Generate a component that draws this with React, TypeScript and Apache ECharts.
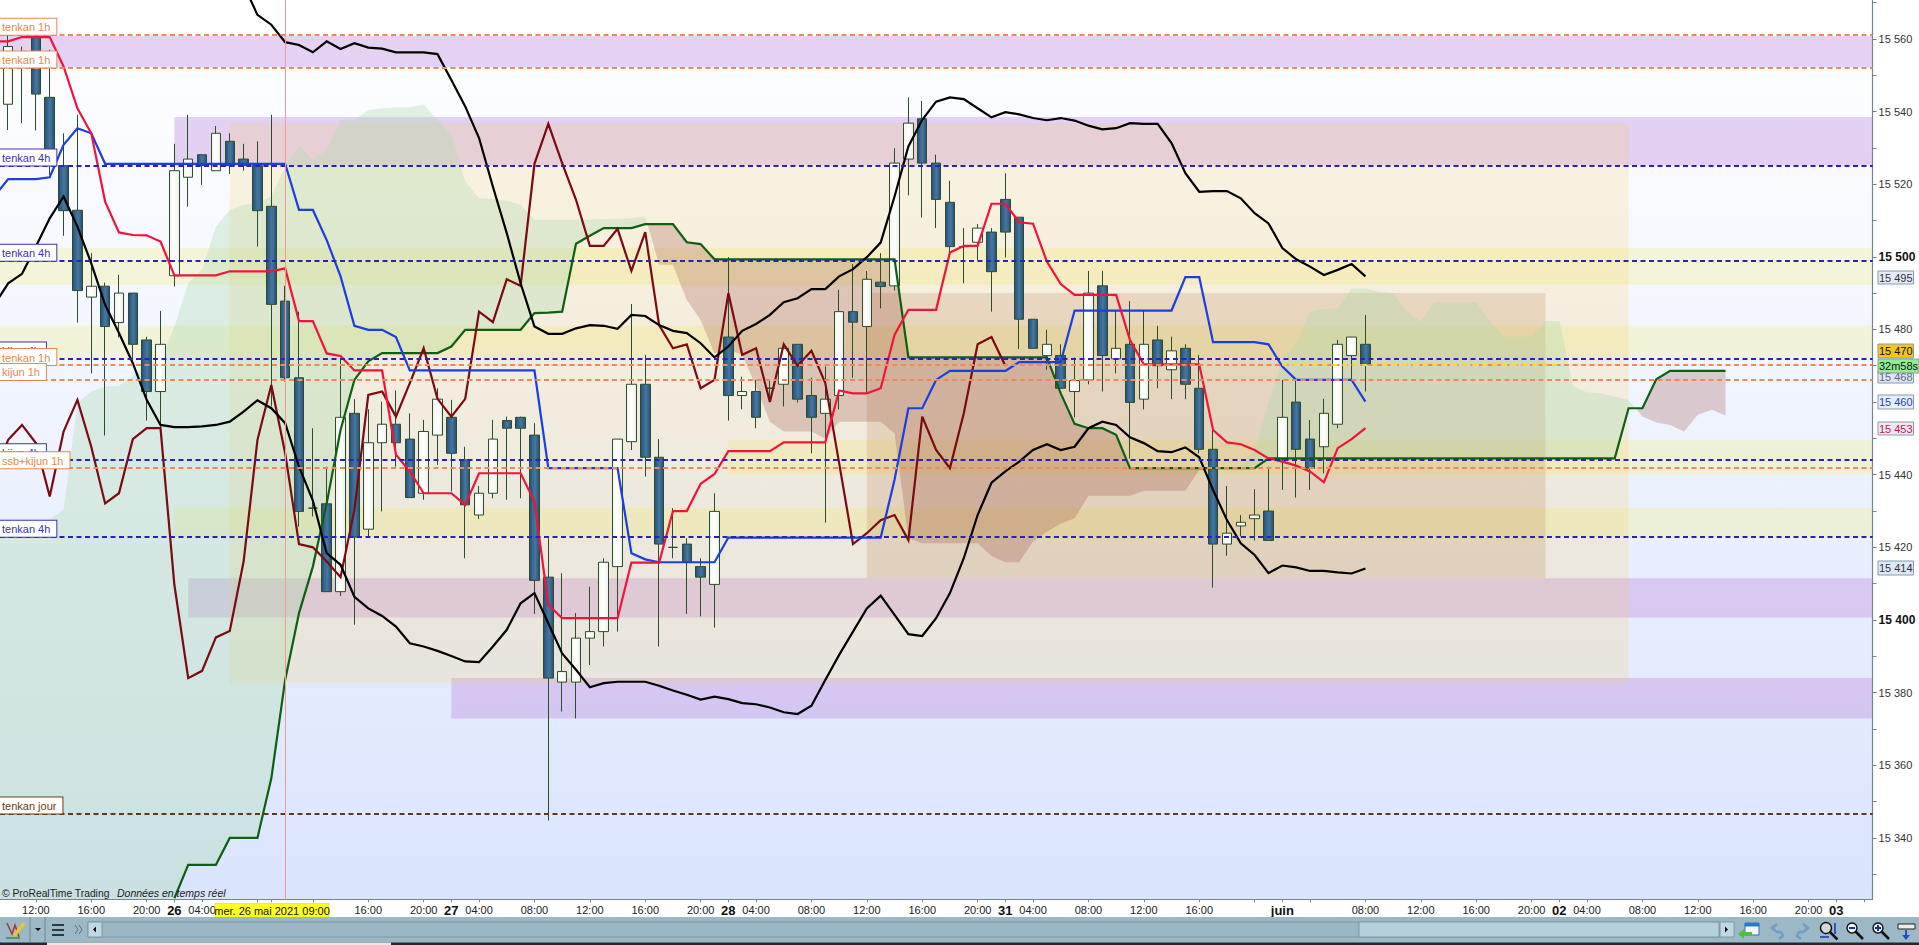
import React, { useEffect, useRef } from "react";
import * as echarts from "echarts";

const FONT = "'Liberation Sans', Arial, sans-serif";
const xMin = -0.59;
const xMax = 134.62;
const yMin = 15323.1;
const yMax = 15570.7;

// candles, index 0..98
const opens = [
  15542.0, 15553.8, 15560.6, 15543.9, 15525.1, 15512.8, 15488.9, 15491.9, 15481.9, 15490.0,
  15477.1, 15462.9, 15494.8, 15521.9, 15528.1, 15523.7, 15531.8, 15526.9, 15525.1, 15513.9,
  15487.8, 15466.7, 15430.8, 15432.0, 15407.8, 15456.9, 15425.0, 15448.8, 15453.9, 15449.8,
  15434.9, 15450.9, 15455.8, 15444.1, 15428.9, 15434.9, 15454.9, 15455.8, 15450.9, 15411.8,
  15382.9, 15382.9, 15395.0, 15396.8, 15414.7, 15449.1, 15464.9, 15444.8, 15420.0, 15420.9,
  15414.7, 15409.8, 15477.9, 15461.8, 15462.9, 15463.8, 15464.9, 15475.9, 15461.8, 15456.9,
  15461.8, 15484.9, 15480.8, 15493.0, 15492.0, 15526.9, 15538.0, 15525.8, 15515.0, 15502.8,
  15504.0, 15506.8, 15515.8, 15510.9, 15482.8, 15472.8, 15472.8, 15462.9, 15466.1, 15492.0,
  15471.9, 15475.9, 15460.8, 15477.1, 15468.9, 15474.8, 15463.8, 15447.0, 15420.9, 15425.9,
  15427.9, 15430.0, 15444.3, 15460.0, 15449.8, 15447.7, 15453.9, 15472.8, 15475.9,
];
const closes = [
  15557.9, 15556.0, 15544.8, 15527.6, 15512.7, 15490.7, 15491.9, 15480.8, 15490.0, 15475.9,
  15462.9, 15475.9, 15523.7, 15526.9, 15525.1, 15534.0, 15525.1, 15525.1, 15512.7, 15486.9,
  15466.7, 15429.9, 15430.8, 15407.8, 15455.8, 15422.8, 15448.8, 15453.9, 15448.8, 15433.7,
  15451.9, 15460.8, 15445.9, 15431.7, 15434.9, 15449.8, 15452.8, 15452.8, 15410.9, 15384.0,
  15385.8, 15395.0, 15396.8, 15415.9, 15449.8, 15464.9, 15444.8, 15420.9, 15420.0, 15415.9,
  15411.8, 15429.9, 15461.8, 15462.9, 15455.8, 15463.8, 15474.8, 15460.8, 15455.8, 15460.8,
  15484.9, 15482.0, 15493.8, 15491.8, 15525.8, 15536.8, 15525.8, 15515.8, 15502.8, 15502.8,
  15507.9, 15495.9, 15506.8, 15482.8, 15474.8, 15475.9, 15463.8, 15465.9, 15490.0, 15472.8,
  15474.8, 15459.9, 15475.9, 15470.0, 15474.1, 15464.9, 15447.0, 15420.9, 15423.9, 15426.9,
  15428.9, 15421.9, 15455.8, 15447.0, 15441.8, 15456.9, 15475.9, 15477.9, 15470.4,
];
const lows = [
  15534.9, 15536.8, 15534.8, 15522.5, 15505.8, 15481.9, 15467.9, 15450.8, 15477.8, 15471.6,
  15454.9, 15452.3, 15491.8, 15513.8, 15519.8, 15523.7, 15522.8, 15523.7, 15502.8, 15458.8,
  15465.7, 15425.7, 15428.5, 15407.8, 15406.6, 15398.7, 15422.7, 15429.9, 15442.2, 15433.7,
  15433.1, 15442.7, 15435.4, 15417.0, 15427.8, 15433.5, 15433.1, 15433.5, 15401.7, 15344.8,
  15374.8, 15372.9, 15387.6, 15392.7, 15396.8, 15446.8, 15439.5, 15392.7, 15417.0, 15401.7,
  15401.0, 15397.9, 15454.9, 15458.0, 15452.8, 15460.1, 15458.8, 15459.9, 15445.9, 15426.8,
  15458.0, 15466.7, 15462.4, 15485.8, 15490.7, 15516.9, 15510.8, 15507.9, 15500.1, 15492.7,
  15499.1, 15484.9, 15499.8, 15474.6, 15474.8, 15468.9, 15463.8, 15455.8, 15464.9, 15462.9,
  15467.9, 15444.5, 15458.0, 15463.8, 15460.8, 15460.8, 15445.9, 15408.9, 15417.7, 15423.0,
  15421.9, 15421.9, 15435.8, 15433.7, 15435.8, 15440.4, 15452.8, 15466.1, 15462.9,
];
const highs = [
  15561.1, 15557.9, 15561.6, 15557.0, 15534.0, 15539.1, 15501.0, 15492.9, 15495.0, 15490.0,
  15478.0, 15485.1, 15531.1, 15539.1, 15528.1, 15536.0, 15534.0, 15531.1, 15531.8, 15539.1,
  15492.0, 15484.9, 15452.8, 15442.2, 15472.1, 15460.8, 15458.0, 15460.1, 15463.2, 15456.9,
  15455.1, 15463.8, 15460.6, 15447.7, 15436.9, 15455.1, 15456.0, 15456.0, 15454.2, 15422.5,
  15412.9, 15401.9, 15409.2, 15417.0, 15449.8, 15487.0, 15473.0, 15449.8, 15430.8, 15422.5,
  15417.0, 15434.9, 15499.9, 15467.0, 15466.1, 15466.1, 15475.9, 15475.9, 15466.7, 15469.8,
  15490.9, 15498.0, 15496.1, 15501.0, 15529.9, 15543.9, 15542.9, 15528.1, 15520.9, 15507.9,
  15509.0, 15507.9, 15523.0, 15510.9, 15482.8, 15479.9, 15475.9, 15472.3, 15496.1, 15496.1,
  15485.2, 15487.8, 15485.2, 15481.0, 15478.0, 15475.9, 15473.0, 15452.3, 15436.9, 15428.9,
  15436.0, 15442.2, 15466.1, 15466.1, 15455.1, 15460.9, 15477.1, 15477.9, 15484.0,
];

// indicator lines: the first value of each belongs to index -1
const firstLineIndex = -1;
const bollingerLow = [
  15486.8,
  15492.7, 15495.3, 15502.8, 15510.6, 15516.6, 15508.3, 15498.2, 15486.8, 15479.0, 15470.7,
  15460.6, 15453.7, 15453.1, 15453.1, 15453.3, 15453.7, 15454.6, 15457.4, 15460.5, 15458.3,
  15454.2, 15442.2, 15432.9, 15418.4, 15415.2, 15406.4, 15403.2, 15401.1, 15398.2, 15393.6,
  15392.7, 15391.5, 15390.1, 15388.6, 15388.4, 15392.7, 15397.3, 15404.6, 15407.4, 15399.1,
  15390.8, 15386.3, 15381.5, 15382.6, 15383.0, 15383.0, 15383.0, 15381.9, 15380.6, 15379.4,
  15378.1, 15378.9, 15378.2, 15377.1, 15376.8, 15375.9, 15374.6, 15374.1, 15376.4, 15383.5,
  15390.4, 15396.8, 15403.2, 15406.7, 15401.4, 15396.1, 15395.6, 15400.5, 15407.4, 15417.0,
  15428.9, 15437.8, 15440.9, 15443.6, 15446.8, 15448.4, 15446.8, 15447.7, 15452.8, 15454.6,
  15453.7, 15450.3, 15448.7, 15446.5, 15446.2, 15447.5, 15444.8, 15435.8, 15427.5, 15421.1,
  15417.9, 15412.9, 15415.0, 15414.5, 15413.5, 15413.5, 15413.1, 15412.8, 15414.2,
];
const bollingerHigh = [
  null,
  null, null, null, null, null, null, null, null, null, null,
  null, null, null, null, null, null, null, 15574.9, 15566.6, 15563.9,
  15559.1, 15558.3, 15556.3, 15559.3, 15557.2, 15558.8, 15557.6, 15557.3, 15556.3, 15556.3,
  15556.3, 15555.8, 15548.7, 15541.4, 15532.7, 15519.3, 15506.5, 15492.7, 15480.8, 15478.8,
  15478.8, 15480.3, 15481.2, 15481.0, 15480.2, 15484.0, 15483.7, 15481.2, 15479.6, 15479.0,
  15476.2, 15472.3, 15475.3, 15479.6, 15481.5, 15484.0, 15487.5, 15488.6, 15491.1, 15491.1,
  15494.6, 15496.6, 15499.9, 15503.9, 15516.6, 15530.4, 15537.7, 15542.7, 15543.9, 15543.4,
  15540.9, 15538.4, 15539.8, 15539.2, 15538.2, 15537.6, 15538.2, 15537.5, 15536.1, 15535.1,
  15535.4, 15536.8, 15536.6, 15536.6, 15531.3, 15523.0, 15517.9, 15518.1, 15518.1, 15516.1,
  15512.0, 15509.2, 15502.4, 15499.3, 15497.3, 15495.0, 15496.4, 15498.0, 15494.6,
];
const tenkan = [
  15559.3,
  15559.3, 15560.5, 15560.5, 15560.5, 15552.4, 15540.9, 15534.0, 15515.2, 15506.7, 15506.0,
  15505.9, 15504.2, 15494.9, 15494.9, 15494.9, 15494.9, 15496.0, 15496.0, 15496.0, 15496.0,
  15496.8, 15482.3, 15482.3, 15473.4, 15472.7, 15468.7, 15468.7, 15468.7, 15445.5, 15440.9,
  15434.9, 15434.9, 15434.9, 15431.7, 15440.4, 15440.4, 15440.4, 15440.4, 15432.6, 15404.2,
  15400.5, 15400.5, 15400.5, 15400.5, 15400.5, 15415.8, 15415.8, 15415.8, 15430.0, 15430.0,
  15437.5, 15440.2, 15446.5, 15446.5, 15446.5, 15446.5, 15448.9, 15448.9, 15448.9, 15448.9,
  15463.2, 15462.4, 15462.4, 15463.8, 15478.5, 15485.4, 15485.4, 15485.4, 15501.2, 15503.0,
  15503.0, 15514.6, 15514.6, 15509.5, 15509.1, 15498.7, 15492.5, 15489.5, 15489.5, 15489.5,
  15489.5, 15477.1, 15470.4, 15470.4, 15470.4, 15470.4, 15470.4, 15452.3, 15448.9, 15448.4,
  15446.8, 15444.5, 15443.6, 15442.5, 15440.9, 15437.9, 15447.3, 15449.8, 15452.8,
];
const kijun = [
  15516.6,
  15521.4, 15521.4, 15521.4, 15521.9, 15530.8, 15535.4, 15534.0, 15525.6, 15525.6, 15525.6,
  15525.6, 15525.6, 15525.6, 15525.6, 15525.6, 15525.6, 15525.6, 15525.6, 15525.6, 15525.6,
  15525.6, 15512.9, 15512.9, 15504.6, 15494.6, 15481.0, 15479.9, 15479.9, 15477.9, 15468.7,
  15468.7, 15468.7, 15468.7, 15468.7, 15468.7, 15468.7, 15468.7, 15468.7, 15468.7, 15441.8,
  15441.8, 15441.8, 15441.8, 15441.8, 15441.8, 15418.4, 15416.7, 15415.9, 15415.9, 15415.9,
  15415.9, 15415.9, 15422.7, 15422.7, 15422.7, 15422.7, 15422.7, 15422.7, 15422.7, 15422.7,
  15422.7, 15422.7, 15422.7, 15422.7, 15438.6, 15458.3, 15458.3, 15466.1, 15468.6, 15468.6,
  15468.6, 15468.6, 15468.6, 15471.0, 15471.0, 15471.0, 15471.0, 15485.2, 15485.2, 15485.2,
  15485.2, 15485.2, 15485.2, 15485.2, 15485.2, 15494.4, 15494.4, 15476.5, 15476.5, 15476.5,
  15476.5, 15475.9, 15469.8, 15466.1, 15466.1, 15466.1, 15466.1, 15466.1, 15460.1,
];
const chikou = [
  15440.4,
  15449.6, 15453.7, 15448.7, 15434.0, 15451.9, 15460.6, 15447.7, 15432.1, 15434.9, 15449.8,
  15452.8, 15452.8, 15409.7, 15384.0, 15386.0, 15395.2, 15397.0, 15416.1, 15449.6, 15464.7,
  15445.9, 15420.9, 15420.0, 15416.1, 15411.8, 15430.3, 15462.0, 15462.9, 15456.0, 15465.2,
  15474.8, 15460.9, 15456.0, 15460.9, 15484.9, 15482.0, 15493.8, 15492.0, 15525.6, 15536.6,
  15525.8, 15515.7, 15503.0, 15503.0, 15507.7, 15496.1, 15506.8, 15481.2, 15474.8, 15475.9,
  15463.8, 15466.1, 15490.0, 15473.0, 15474.8, 15460.0, 15475.9, 15470.0, 15474.1, 15465.2,
  15443.2, 15420.9, 15423.9, 15427.5, 15428.9, 15422.0, 15456.0, 15446.8, 15441.8, 15456.9,
  15475.9, 15477.9, 15470.0,
];
const senkouB = [
  null,
  null, null, null, null, null, null, null, null, null, null,
  null, null, 15323.4, 15332.6, 15332.6, 15332.6, 15340.0, 15340.0, 15340.0, 15356.4,
  15383.5, 15401.9, 15414.7, 15432.1, 15452.3, 15466.1, 15471.2, 15473.5, 15473.5, 15473.5,
  15473.5, 15473.5, 15475.3, 15479.9, 15479.9, 15479.9, 15479.9, 15479.9, 15484.5, 15484.6,
  15484.9, 15503.6, 15505.8, 15507.9, 15507.9, 15507.9, 15509.0, 15509.0, 15509.0, 15504.0,
  15503.5, 15499.3, 15499.3, 15499.3, 15499.3, 15499.3, 15499.3, 15499.3, 15499.3, 15499.3,
  15499.3, 15499.3, 15499.3, 15499.3, 15499.3, 15472.3, 15472.3, 15472.3, 15472.3, 15472.3,
  15472.3, 15472.3, 15472.3, 15472.3, 15472.3, 15472.3, 15462.4, 15454.0, 15452.8, 15452.8,
  15451.0, 15441.8, 15441.8, 15441.8, 15441.8, 15441.8, 15441.8, 15441.8, 15441.8, 15441.8,
  15441.8, 15444.5, 15444.5, 15444.5, 15444.5, 15444.5, 15444.5, 15444.5, 15444.5, 15444.5,
  15444.5, 15444.5, 15444.5, 15444.5, 15444.5, 15444.5, 15444.5, 15444.5, 15444.5, 15444.5,
  15444.5, 15444.5, 15444.5, 15444.5, 15444.5, 15444.5, 15444.5, 15458.3, 15458.3, 15466.3,
  15468.6, 15468.6, 15468.6, 15468.6, 15468.6,
];
const senkouA = [
  15427.7,
  15427.7, 15427.7, 15427.7, 15427.7, 15430.3, 15459.7, 15462.9, 15464.3, 15464.5, 15467.0,
  15470.7, 15471.2, 15480.8, 15492.7, 15496.4, 15508.3, 15512.9, 15514.3, 15514.8, 15516.6,
  15524.9, 15530.4, 15526.7, 15529.4, 15537.7, 15537.7, 15540.4, 15540.9, 15541.1, 15541.2,
  15541.9, 15537.7, 15533.6, 15520.7, 15516.1, 15515.9, 15515.4, 15514.3, 15510.2, 15510.2,
  15510.2, 15510.2, 15510.3, 15510.4, 15510.5, 15510.6, 15511.1, 15497.8, 15497.8, 15488.1,
  15482.6, 15473.4, 15474.4, 15473.0, 15464.3, 15454.6, 15451.9, 15451.9, 15451.9, 15449.9,
  15454.6, 15454.6, 15454.6, 15454.6, 15451.4, 15422.5, 15421.1, 15421.1, 15421.1, 15421.1,
  15421.1, 15417.6, 15415.9, 15415.9, 15421.6, 15424.3, 15426.6, 15428.0, 15434.2, 15434.2,
  15434.2, 15434.2, 15435.6, 15435.6, 15435.6, 15435.6, 15441.3, 15441.8, 15441.8, 15442.2,
  15446.8, 15459.7, 15471.6, 15476.2, 15484.9, 15485.7, 15485.7, 15491.3, 15491.3, 15490.4,
  15490.0, 15484.9, 15482.2, 15487.5, 15487.5, 15487.5, 15487.5, 15482.2, 15478.0, 15478.0,
  15478.0, 15482.3, 15482.3, 15464.3, 15462.7, 15462.4, 15461.5, 15460.6, 15456.0, 15454.4,
  15453.7, 15451.9, 15456.5, 15457.9, 15456.3,
];
const lastPriceSegment = [92, 112];
const lastPriceValue = 15470.2;
const cursorIndex = 20;

// horizontal zones: [fromIndex, toIndex, low, high, colour]
const PURPLE = "rgba(192,145,225,0.4)";
const YELLOW = "rgba(240,238,143,0.35)";
const zones: [number, number, number, number, string][] = [
  [xMin, xMax, 15552.1, 15560.8, PURPLE],
  [12, xMax, 15525.1, 15538.5, PURPLE],
  [xMin, xMax, 15492.3, 15502.4, YELLOW],
  [xMin, xMax, 15472.0, 15481.0, YELLOW],
  [52, xMax, 15440.0, 15449.5, YELLOW],
  [12, xMax, 15422.9, 15431.0, YELLOW],
  [13, xMax, 15400.7, 15411.5, PURPLE],
  [32, xMax, 15372.9, 15384.0, PURPLE],
  [16, 117, 15382.5, 15536.8, "rgba(250,207,95,0.2)"],
  [62, 111, 15411.5, 15490.0, "rgba(180,120,60,0.2)"],
];

const ORANGE = "#ee8a58";
const NAVY = "#2a22b8";
const BROWN = "#5c3a1e";
// horizontal levels: [price, colour, label]
const levels: [number, string, string, string][] = [
  [15561.1, ORANGE, "tenkan 1h", "#e8874f"],
  [15552.1, ORANGE, "tenkan 1h", "#e8874f"],
  [15525.1, NAVY, "tenkan 4h", "#3a35b0"],
  [15498.9, NAVY, "tenkan 4h", "#3a35b0"],
  [15472.0, NAVY, "kijun 4h", "#3a35b0"],
  [15470.2, ORANGE, "tenkan 1h", "#e8874f"],
  [15466.1, ORANGE, "kijun 1h", "#e8874f"],
  [15444.0, NAVY, "kijun 4h", "#3a35b0"],
  [15441.8, ORANGE, "ssb+kijun 1h", "#e8874f"],
  [15422.9, NAVY, "tenkan 4h", "#3a35b0"],
  [15346.7, BROWN, "tenkan jour", "#6a3d12"],
];

const xTickIndexes = [2, 6, 10, 12, 14, 18, 19, 22, 26, 30, 32, 34, 38, 42, 46, 50, 52, 54, 58, 62, 66, 70, 72, 74, 78, 82, 86, 90, 92, 94, 98, 102, 106, 110, 112, 114, 118, 122, 126, 130, 132, 134];
const xLabelIndexes = [2, 6, 10, 12, 14, 26, 30, 32, 34, 38, 42, 46, 50, 52, 54, 58, 62, 66, 70, 72, 74, 78, 82, 86, 92, 98, 102, 106, 110, 112, 114, 118, 122, 126, 130, 132];
const xLabelTexts = ["12:00", "16:00", "20:00", "26", "04:00", "16:00", "20:00", "27", "04:00", "08:00", "12:00", "16:00", "20:00", "28", "04:00", "08:00", "12:00", "16:00", "20:00", "31", "04:00", "08:00", "12:00", "16:00", "juin", "08:00", "12:00", "16:00", "20:00", "02", "04:00", "08:00", "12:00", "16:00", "20:00", "03"];
const yLabelValues = [15340, 15360, 15380, 15400, 15420, 15440, 15480, 15500, 15520, 15540, 15560];
const yBoldValues = [15400, 15500];
const yTickValues = [15330, 15340, 15350, 15360, 15370, 15380, 15390, 15400, 15410, 15420, 15430, 15440, 15450, 15460, 15470, 15480, 15490, 15500, 15510, 15520, 15530, 15540, 15550, 15560, 15570];

// price tags at the right of the axis: [text, top, height, fill, text colour, width]
const tags: [string, number, number, string, string, number][] = [
  ["15 495", 271, 13, "#e4eaf8", "#333", 35.5],
  ["15 470", 344, 14, "#f5c518", "#111", 35.5],
  ["15 468", 371, 12, "#dde6f5", "#667", 35.5],
  ["32m58s", 359, 14, "#90ee90", "#111", 41],
  ["15 460", 395, 14, "#e8eefc", "#2040d0", 35.5],
  ["15 453", 422, 13, "#f0e8f4", "#d01050", 35.5],
  ["15 414", 561, 14, "#dfe8f8", "#333", 35.5],
];

function buildClouds() {
  const polys: { pts: number[][]; up: boolean }[] = [];
  let top: number[][] = [];
  let bot: number[][] = [];
  let prev: boolean | null = null;
  const close = (up: boolean) => {
    polys.push({ pts: [...top, ...bot.slice().reverse()], up });
    top = [];
    bot = [];
  };
  senkouA.forEach((a, k) => {
    const x = k + firstLineIndex;
    const b = senkouB[k] ?? yMin;
    const up = a >= b;
    if (prev !== null && up !== prev) {
      const pa = senkouA[k - 1];
      const pb = senkouB[k - 1] ?? yMin;
      const t = (pa - pb) / (pa - pb - (a - b));
      const cx = x - 1 + t;
      const cy = pa + (a - pa) * t;
      top.push([cx, cy]);
      bot.push([cx, cy]);
      close(prev);
      top.push([cx, cy]);
      bot.push([cx, cy]);
    }
    top.push([x, a]);
    bot.push([x, b]);
    prev = up;
  });
  if (prev !== null) close(prev);
  return polys;
}

const lineData = (vals: (number | null)[]) => vals.map((v, k) => [k + firstLineIndex, v]);

function lineSeries(name: string, vals: (number | null)[], color: string, z = 4) {
  return {
    name,
    type: "line",
    data: lineData(vals),
    symbol: "none",
    z,
    silent: true,
    connectNulls: false,
    lineStyle: { color, width: 2.2, join: "miter" },
  };
}

function tagGraphics() {
  const out: any[] = [];
  tags.forEach(([text, top, h, fill, col, w]) => {
    out.push({
      type: "rect",
      z: 200,
      shape: { x: 1878, y: top, width: w, height: h },
      style: { fill, stroke: "#8a9aa8", lineWidth: 1 },
    });
    out.push({
      type: "text",
      z: 201,
      x: 1878 + w / 2,
      y: top + h / 2,
      style: { text, fill: col, font: `11px ${FONT}`, align: "center", verticalAlign: "middle" },
    });
  });
  return out;
}

function lens(cx: number, cy: number, r: number, lw: number, fill: string) {
  return [
    { type: "line", z: 210, shape: { x1: cx + r * 0.6, y1: cy + r * 0.6, x2: cx + r + 6, y2: cy + r + 6 }, style: { stroke: "#111", lineWidth: lw } },
    { type: "circle", z: 211, shape: { cx, cy, r }, style: { fill, stroke: "#111", lineWidth: 1.4 } },
  ];
}

function toolbarGraphics() {
  return [
    { type: "rect", z: 205, shape: { x: 0, y: 917, width: 1919, height: 26 }, style: { fill: "#9cb8c6" } },
    { type: "rect", z: 205, shape: { x: 0, y: 942.5, width: 1919, height: 2.5 }, style: { fill: "#1e2a30" } },
    { type: "rect", z: 206, shape: { x: 47, y: 942.5, width: 344, height: 2.5 }, style: { fill: "#e8e8e8" } },
    { type: "line", z: 206, shape: { x1: 30, y1: 917, x2: 30, y2: 942 }, style: { stroke: "#6f8a98", lineWidth: 1 } },
    { type: "line", z: 206, shape: { x1: 45, y1: 917, x2: 45, y2: 942 }, style: { stroke: "#6f8a98", lineWidth: 1 } },
    { type: "polyline", z: 207, shape: { points: [[7, 923], [12, 934], [15, 925], [19, 937]] }, style: { stroke: "#b0303a", lineWidth: 1.5, fill: "none" } },
    { type: "line", z: 207, shape: { x1: 24, y1: 923, x2: 14, y2: 936 }, style: { stroke: "#e8c82c", lineWidth: 3.5 } },
    { type: "line", z: 207, shape: { x1: 6, y1: 938, x2: 20, y2: 938 }, style: { stroke: "#3a8a4a", lineWidth: 1.5 } },
    { type: "polygon", z: 207, shape: { points: [[35, 928], [41, 928], [38, 931]] }, style: { fill: "#111" } },
    { type: "rect", z: 207, shape: { x: 52, y: 924, width: 12, height: 2 }, style: { fill: "#2c3a42" } },
    { type: "rect", z: 207, shape: { x: 52, y: 929, width: 12, height: 2 }, style: { fill: "#2c3a42" } },
    { type: "rect", z: 207, shape: { x: 52, y: 934, width: 12, height: 2 }, style: { fill: "#2c3a42" } },
    { type: "polyline", z: 207, shape: { points: [[75, 925], [78, 929.5], [75, 934]] }, style: { stroke: "#5c7280", lineWidth: 1, fill: "none" } },
    { type: "polyline", z: 207, shape: { points: [[79, 925], [82, 929.5], [79, 934]] }, style: { stroke: "#5c7280", lineWidth: 1, fill: "none" } },
    { type: "rect", z: 206, shape: { x: 88, y: 922, width: 1632, height: 15 }, style: { fill: "#9bb6c4", stroke: "#7d98a6", lineWidth: 1 } },
    { type: "rect", z: 207, shape: { x: 1359, y: 922, width: 360, height: 15 }, style: { fill: "#b5d0da", stroke: "#7d98a6", lineWidth: 1 } },
    { type: "rect", z: 207, shape: { x: 88, y: 922, width: 14, height: 15 }, style: { fill: "#c2d8e0", stroke: "#7d98a6", lineWidth: 1 } },
    { type: "rect", z: 207, shape: { x: 1720, y: 922, width: 14, height: 15 }, style: { fill: "#c2d8e0", stroke: "#7d98a6", lineWidth: 1 } },
    { type: "polygon", z: 208, shape: { points: [[96, 926.5], [93, 929.5], [96, 932.5]] }, style: { fill: "#111" } },
    { type: "polygon", z: 208, shape: { points: [[1725, 926.5], [1728, 929.5], [1725, 932.5]] }, style: { fill: "#111" } },
    { type: "rect", z: 208, shape: { x: 1745, y: 923, width: 14, height: 12 }, style: { fill: "#f4f4f4", stroke: "#3070c0", lineWidth: 1 } },
    { type: "rect", z: 208, shape: { x: 1745, y: 923, width: 14, height: 3.5 }, style: { fill: "#2a78c8" } },
    { type: "polygon", z: 209, shape: { points: [[1738, 934], [1744, 929], [1744, 932], [1752, 932], [1752, 936], [1744, 936], [1744, 939]] }, style: { fill: "#4cc040" } },
    { type: "polyline", z: 208, shape: { points: [[1777, 924], [1772, 928], [1777, 932], [1781, 932], [1783, 936], [1779, 939]] }, style: { stroke: "#6f9fc8", lineWidth: 2.5, fill: "none" } },
    { type: "polyline", z: 208, shape: { points: [[1803, 924], [1808, 928], [1803, 932], [1799, 932], [1797, 936], [1801, 939]] }, style: { stroke: "#6f9fc8", lineWidth: 2.5, fill: "none" } },
    ...lens(1826, 928, 5.5, 2.5, "#d8d8d8"),
    { type: "line", z: 212, shape: { x1: 1835, y1: 923, x2: 1835, y2: 934 }, style: { stroke: "#1030c0", lineWidth: 1.5 } },
    { type: "line", z: 212, shape: { x1: 1820, y1: 937, x2: 1829, y2: 937 }, style: { stroke: "#1030c0", lineWidth: 1.5 } },
    ...lens(1852, 928, 5, 2.5, "#eef4fa"),
    { type: "rect", z: 212, shape: { x: 1849, y: 927, width: 6, height: 2 }, style: { fill: "#1030a0" } },
    ...lens(1878, 928, 5, 2.5, "#eef4fa"),
    { type: "rect", z: 212, shape: { x: 1875, y: 927, width: 6, height: 2 }, style: { fill: "#1030a0" } },
    { type: "rect", z: 212, shape: { x: 1877, y: 925, width: 2, height: 6 }, style: { fill: "#1030a0" } },
    { type: "rect", z: 208, shape: { x: 1898, y: 924, width: 17, height: 5 }, style: { fill: "#eee", stroke: "#222", lineWidth: 1 } },
    { type: "line", z: 208, shape: { x1: 1906, y1: 930, x2: 1906, y2: 936 }, style: { stroke: "#2050c0", lineWidth: 2 } },
    { type: "polygon", z: 208, shape: { points: [[1902, 935], [1910, 935], [1906, 940]] }, style: { fill: "#2050c0" } },
  ];
}

function buildOption(): any {
  const clouds = buildClouds();
  const tickText = (v: number) => {
    const k = xLabelIndexes.indexOf(v);
    if (k < 0) return "";
    const t = xLabelTexts[k];
    return t.includes(":") ? t : `{d|${t}}`;
  };
  const thousands = (v: number) => String(v).replace(/(\d\d)(\d\d\d)/, "$1 $2");
  return {
    animation: false,
    backgroundColor: "#ffffff",
    tooltip: { show: false },
    grid: {
      left: 0,
      top: 0,
      width: 1872.6,
      height: 899.3,
      show: true,
      borderWidth: 0,
      backgroundColor: new echarts.graphic.LinearGradient(0, 0, 0, 1, [
        { offset: 0, color: "#ffffff" },
        { offset: 0.35, color: "#f4f7ff" },
        { offset: 1, color: "#dae4fd" },
      ]),
    },
    xAxis: {
      type: "value",
      min: xMin,
      max: xMax,
      splitLine: { show: false },
      axisLine: { show: true, onZero: false, lineStyle: { color: "#74858f", width: 1.2 } },
      axisTick: { show: true, length: 3, customValues: xTickIndexes, lineStyle: { color: "#74858f" } },
      axisLabel: {
        customValues: xLabelIndexes,
        formatter: tickText,
        color: "#222",
        fontFamily: FONT,
        fontSize: 11,
        margin: 5,
        showMinLabel: true,
        showMaxLabel: true,
        hideOverlap: false,
        rich: { d: { fontFamily: FONT, fontSize: 13, fontWeight: "bold", color: "#111" } },
      },
    },
    yAxis: {
      type: "value",
      position: "right",
      min: yMin,
      max: yMax,
      splitLine: { show: false },
      axisLine: { show: true, onZero: false, lineStyle: { color: "#74858f", width: 1.2 } },
      axisTick: { show: true, length: 4, customValues: yTickValues, lineStyle: { color: "#74858f" } },
      axisLabel: {
        customValues: yLabelValues,
        formatter: (v: number) => (yBoldValues.includes(v) ? `{b|${thousands(v)}}` : thousands(v)),
        color: "#333",
        fontFamily: FONT,
        fontSize: 11,
        margin: 6,
        hideOverlap: false,
        rich: { b: { fontFamily: FONT, fontSize: 12, fontWeight: "bold", color: "#111" } },
      },
    },
    graphic: [
      { type: "text", z: 100, x: 2, y: 893, style: { text: "© ProRealTime Trading", fill: "#222", font: `10.3px ${FONT}`, verticalAlign: "middle" } },
      { type: "text", z: 100, x: 117, y: 893, style: { text: "Données en temps réel", fill: "#222", font: `italic 10.5px ${FONT}`, verticalAlign: "middle" } },
      { type: "rect", z: 150, shape: { x: 215, y: 903.5, width: 114, height: 14 }, style: { fill: "#ffff20", stroke: "#c8c850", lineWidth: 0.5 } },
      { type: "text", z: 151, x: 272, y: 911, style: { text: "mer. 26 mai 2021 09:00", fill: "#111", font: `11px ${FONT}`, align: "center", verticalAlign: "middle" } },
      ...tagGraphics(),
      ...toolbarGraphics(),
    ],
    series: [
      {
        type: "line",
        data: [],
        silent: true,
        markArea: {
          z: 0,
          silent: true,
          itemStyle: { borderWidth: 0 },
          data: zones.map(([x0, x1, lo, hi, color]) => [
            { xAxis: x0, yAxis: hi, itemStyle: { color } },
            { xAxis: x1, yAxis: lo },
          ]),
        },
      },
      {
        type: "custom",
        coordinateSystem: "cartesian2d",
        silent: true,
        clip: true,
        z: 1,
        data: clouds.map((_, k) => [k]),
        encode: { x: 0 },
        renderItem: (p: any, api: any) => {
          const c = clouds[p.dataIndex];
          return {
            type: "polygon",
            shape: { points: c.pts.map((q) => api.coord(q)) },
            style: { fill: c.up ? "rgba(175,218,174,0.35)" : "rgba(150,70,60,0.25)" },
          };
        },
      },
      {
        type: "candlestick",
        z: 2,
        silent: true,
        barWidth: 10,
        clip: true,
        itemStyle: {
          color: new echarts.graphic.LinearGradient(0, 0, 1, 0, [
            { offset: 0, color: "#f4f4ee" },
            { offset: 0.5, color: "#ffffff" },
            { offset: 1, color: "#ededE6" },
          ]),
          color0: new echarts.graphic.LinearGradient(0, 0, 1, 0, [
            { offset: 0, color: "#24507e" },
            { offset: 0.55, color: "#47789f" },
            { offset: 1, color: "#274f77" },
          ]),
          borderColor: "#2d4d2a",
          borderColor0: "#2d4d2a",
          borderColorDoji: "#2d4d2a",
          borderWidth: 1,
        },
        data: opens.map((o, i) => [i, o, closes[i], lows[i], highs[i]]),
      },
      lineSeries("senkouB", senkouB, "#0e5f12"),
      lineSeries("chikou", chikou, "#7a0b12"),
      lineSeries("kijun", kijun, "#1a3ee0"),
      lineSeries("tenkan", tenkan, "#f0143c"),
      lineSeries("bollingerLow", bollingerLow, "#000000"),
      lineSeries("bollingerHigh", bollingerHigh, "#000000"),
      {
        type: "line",
        data: [],
        silent: true,
        z: 8,
        markLine: {
          z: 8,
          silent: true,
          symbol: "none",
          animation: false,
          lineStyle: { width: 2 },
          data: [
            ...levels.map(([value, color, text, textColor]) => ({
              yAxis: value,
              lineStyle: { color, type: [5, 3.5], width: 2 },
              label: {
                show: true,
                position: "insideStartTop",
                distance: 0,
                formatter: text,
                color: textColor,
                fontFamily: FONT,
                fontSize: 11,
                backgroundColor: "#ffffff",
                borderColor: textColor,
                borderWidth: 1,
                padding: [3, 6, 2, 2],
              },
            })),
            {
              xAxis: cursorIndex,
              lineStyle: { color: "#f19a9a", type: "solid", width: 1 },
              label: { show: false },
            },
          ],
        },
      },
      {
        type: "line",
        z: 9,
        silent: true,
        symbol: "none",
        data: lastPriceSegment.map((x) => [x, lastPriceValue]),
        lineStyle: { color: "#f5e020", type: [5, 5], width: 2 },
      },
    ],
  };
}

export default function App() {
  const ref = useRef<HTMLDivElement>(null);
  useEffect(() => {
    if (!ref.current) return;
    const chart = echarts.init(ref.current, undefined, { renderer: "svg" });
    chart.setOption(buildOption());
    return () => chart.dispose();
  }, []);
  return (
    <div style={{ position: "fixed", left: 0, top: 0, width: 1919, height: 945, overflow: "hidden", background: "#fff" }}>
      <div ref={ref} style={{ width: 1919, height: 945 }} />
    </div>
  );
}
